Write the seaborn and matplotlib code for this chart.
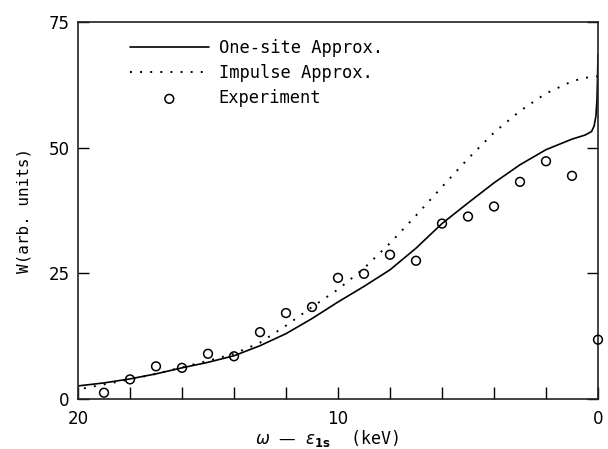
import numpy as np
import matplotlib
matplotlib.use("Agg")
import matplotlib.pyplot as plt
import seaborn as sns

# Energy transfer omega - eps_1s (keV) for the calculated curves
omega_curve = [20, 19, 18, 17, 16, 15, 14, 13, 12, 11, 10, 9, 8, 7, 6, 5, 4, 3, 2, 1,
               0.5, 0.25, 0.15, 0.08, 0.04, 0.02, 0.0]
# One-site approximation (solid)
one_site = [2.6, 3.2, 4.0, 5.0, 6.2, 7.3, 8.6, 10.6, 13.0, 16.0, 19.3, 22.4, 25.7, 30.0,
            34.9, 39.0, 43.0, 46.6, 49.6, 51.7, 52.5, 53.2, 54.3, 56.3, 59.5, 63.5, 68.5]
# Impulse approximation (dotted)
omega_imp = [20, 19, 18, 17, 16, 15, 14, 13, 12, 11, 10, 9, 8, 7, 6, 5, 4, 3, 2, 1, 0.5, 0.0]
impulse = [1.9, 2.9, 3.9, 5.0, 6.3, 7.6, 9.0, 11.2, 14.6, 18.3, 21.8, 26.0, 31.0, 36.5,
           42.2, 47.8, 53.0, 57.3, 60.8, 63.2, 63.9, 64.2]

# Measured points
omega_exp = [19, 18, 17, 16, 15, 14, 13, 12, 11, 10, 9, 8, 7, 6, 5, 4, 3, 2, 1, 0]
w_exp = [1.25, 3.9, 6.5, 6.2, 9.0, 8.5, 13.3, 17.1, 18.3, 24.1, 24.9, 28.7, 27.5, 34.9,
         36.3, 38.3, 43.2, 47.3, 44.4, 11.8]

x_ticks = [20, 18, 16, 14, 12, 10, 8, 6, 4, 2, 0]
x_ticklabels = ["20", "", "", "", "", "10", "", "", "", "", "0"]
y_ticks = [0, 25, 50, 75]

sns.set_style("white")
plt.rcParams["font.family"] = ["DejaVu Sans"]
plt.rcParams["mathtext.fontset"] = "dejavusans"
plt.rcParams["text.color"] = "black"
plt.rcParams["axes.labelcolor"] = "black"
plt.rcParams["xtick.color"] = "black"
plt.rcParams["ytick.color"] = "black"

fig = plt.figure(figsize=(6.08, 4.49), dpi=100)
ax = fig.add_axes([78 / 608, 1 - 399 / 449, 520 / 608, 377 / 449])

sns.lineplot(x=omega_curve, y=one_site, ax=ax, color="black", linewidth=1.2,
             label="One-site Approx.", estimator=None)
sns.lineplot(x=omega_imp, y=impulse, ax=ax, color="black", linewidth=1.4,
             linestyle=(0, (1, 4.2)), label="Impulse Approx.", estimator=None)
sns.scatterplot(x=omega_exp, y=w_exp, ax=ax, marker="o", s=40, facecolor="none",
                edgecolor="black", linewidth=1.1, label="Experiment", clip_on=False,
                zorder=5)

ax.set_xlim(20, 0)
ax.set_ylim(0, 75)
ax.set_xticks(x_ticks)
ax.set_xticklabels(x_ticklabels)
ax.set_yticks(y_ticks)
ax.tick_params(axis="x", direction="in", length=9, width=1.0, pad=8,
               labelsize=12, top=False, bottom=True)
ax.tick_params(axis="y", direction="in", length=8, width=1.0, pad=6,
               labelsize=12, left=True, right=True)
for s in ax.spines.values():
    s.set_color("#222222")
    s.set_linewidth(1.2)

ax.set_ylabel("W(arb. units)", family="DejaVu Sans Mono", fontsize=11.5)
ax.yaxis.set_label_coords(-0.09, 0.5)
ax.set_xlabel(r"$\omega$ — $\varepsilon_{\mathbf{1s}}$  (keV)",
              family="DejaVu Sans Mono", fontsize=12)
ax.xaxis.set_label_coords(0.479, -0.077)

leg = ax.legend(loc="upper left", bbox_to_anchor=(0.1, 0.955), frameon=False,
                prop={"family": "DejaVu Sans Mono", "size": 12.3}, handlelength=4.6,
                handletextpad=0.6, labelspacing=0.42, borderpad=0, borderaxespad=0,
                scatterpoints=1)

fig.savefig("out.png", dpi=100, facecolor="white")
